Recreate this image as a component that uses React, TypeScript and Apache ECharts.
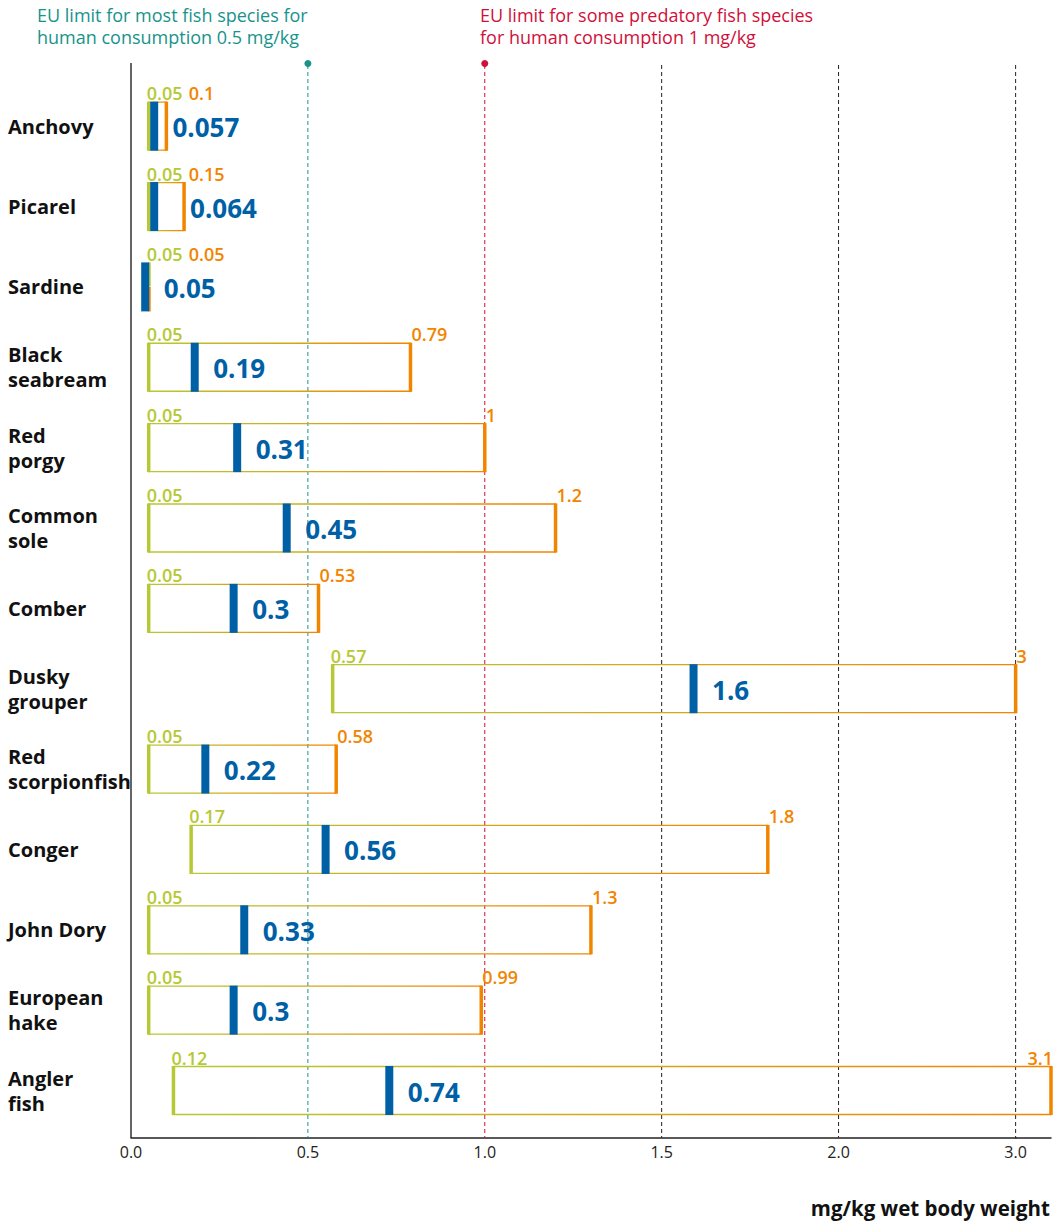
import React, { useEffect, useRef } from "react";
import * as echarts from "echarts";

const categories = [
  "Anchovy",
  "Picarel",
  "Sardine",
  "Black\nseabream",
  "Red\nporgy",
  "Common\nsole",
  "Comber",
  "Dusky\ngrouper",
  "Red\nscorpionfish",
  "Conger",
  "John Dory",
  "European\nhake",
  "Angler\nfish",
];
const minValues = [0.05, 0.05, 0.05, 0.05, 0.05, 0.05, 0.05, 0.57, 0.05, 0.17, 0.05, 0.05, 0.12];
const medianValues = [0.057, 0.064, 0.05, 0.19, 0.31, 0.45, 0.3, 1.6, 0.22, 0.56, 0.33, 0.3, 0.74];
const maxValues = [0.1, 0.15, 0.05, 0.79, 1, 1.2, 0.53, 3, 0.58, 1.8, 1.3, 0.99, 3.1];

const xMin = 0;
const xMax = 3.1;
const xTickInterval = 0.5;
// the original axis skips the stretch 2.5–3.0 (3.0 sits one half-step after 2.0)
const axisBreak = { start: 2.5, end: 3.0 };
const refLineValues = [0.5, 1, 1.5, 2, 3];
const euLimitMost = 0.5;
const euLimitPredatory = 1;

const annotationMost = "EU limit for most fish species for\nhuman consumption 0.5 mg/kg";
const annotationPredatory = "EU limit for some predatory fish species\nfor human consumption 1 mg/kg";
const xAxisName = "mg/kg wet body weight";

const GREEN = "#b6c935";
const ORANGE = "#f28500";
const BLUE = "#0060a6";
const TEAL = "#17938c";
const RED = "#d0103a";
const DARK = "#222222";
const FONT = "'Open Sans', 'Noto Sans', 'DejaVu Sans', sans-serif";

export default function App() {
  const ref = useRef<HTMLDivElement>(null);

  useEffect(() => {
    document.body.style.margin = "0";
    document.body.style.overflow = "hidden";
    if (!ref.current) return;
    const chart = echarts.init(ref.current, null, { renderer: "svg" });

    const boxData = categories.map((_, i) => [i, minValues[i], medianValues[i], maxValues[i]]);
    const refData = refLineValues.map((v) => [v, 0]);

    const refSeries = {
      type: "custom",
      name: "limits",
      silent: true,
      z: 1,
      data: refData,
      encode: { x: 0, y: 1 },
      renderItem: (params: any, api: any) => {
        const cs = params.coordSys;
        const v = api.value(0);
        const x = api.coord([v, 0])[0];
        const color = v === euLimitMost ? TEAL : v === euLimitPredatory ? RED : DARK;
        const children: any[] = [
          {
            type: "line",
            shape: { x1: x, y1: cs.y - 21, x2: x, y2: cs.y + cs.height + 7 },
            style: { stroke: color, lineWidth: 1, lineDash: [4, 3], fill: null },
          },
        ];
        if (color !== DARK) {
          children.push({
            type: "circle",
            shape: { cx: x, cy: cs.y - 22.5, r: 3.5 },
            style: { fill: color },
          });
        }
        return { type: "group", children };
      },
    };

    const boxSeries = {
      type: "custom",
      name: "range",
      silent: true,
      z: 3,
      data: boxData,
      encode: { x: [1, 2, 3], y: 0 },
      renderItem: (params: any, api: any) => {
        const cs = params.coordSys;
        const idx = api.value(0);
        const vMin = api.value(1);
        const vMed = api.value(2);
        const vMax = api.value(3);
        const yc = api.coord([vMin, idx])[1];
        const pMin = api.coord([vMin, idx])[0];
        const pMed = api.coord([vMed, idx])[0];
        const pMax = api.coord([vMax, idx])[0];
        const h = 48;
        const top = yc - h / 2;
        const grad = new echarts.graphic.LinearGradient(0, 0, 1, 0, [
          { offset: 0, color: GREEN },
          { offset: 1, color: ORANGE },
        ]);
        let medLeft = pMed - 7.5;
        if (pMax - pMin > 8 && medLeft < pMin + 1.5) medLeft = pMin + 1.5;
        let medLabelX = pMed + 15;
        if (pMax - pMed < 40) medLabelX = Math.max(medLabelX, pMax + 6);
        let maxLabelX = Math.max(pMax + 1, pMin + 40);
        let maxAlign = "left";
        if (pMax + 25 > cs.x + cs.width) {
          maxLabelX = pMax + 2;
          maxAlign = "right";
        }
        const smallFont = `600 18px ${FONT}`;
        const collapsed = pMax - pMin < 1;
        const edges: any[] = collapsed
          ? [
              {
                type: "rect",
                shape: { x: pMin - 0.5, y: top - 0.5, width: 2.5, height: h / 2 },
                style: { fill: GREEN },
              },
              {
                type: "rect",
                shape: { x: pMin - 0.5, y: yc, width: 2.5, height: h / 2 + 0.5 },
                style: { fill: ORANGE },
              },
            ]
          : [
              {
                type: "rect",
                shape: { x: pMin - 1.75, y: top - 0.5, width: 3.5, height: h + 1 },
                style: { fill: GREEN },
              },
              {
                type: "rect",
                shape: { x: pMax - 1.75, y: top - 0.5, width: 3.5, height: h + 1 },
                style: { fill: ORANGE },
              },
            ];
        return {
          type: "group",
          children: [
            {
              type: "rect",
              shape: { x: pMin, y: top, width: pMax - pMin, height: h },
              style: { fill: null, stroke: collapsed ? null : grad, lineWidth: 1.3 },
            },
            ...edges,
            {
              type: "rect",
              shape: { x: medLeft, y: top - 0.5, width: 8, height: h + 1 },
              style: { fill: BLUE },
            },
            {
              type: "text",
              style: {
                x: pMin - 2,
                y: yc - 33,
                text: String(vMin),
                fill: GREEN,
                font: smallFont,
                align: "left",
                verticalAlign: "middle",
              },
            },
            {
              type: "text",
              style: {
                x: maxLabelX,
                y: yc - 33,
                text: String(vMax),
                fill: ORANGE,
                font: smallFont,
                align: maxAlign,
                verticalAlign: "middle",
              },
            },
            {
              type: "text",
              style: {
                x: medLabelX,
                y: yc + 1,
                text: String(vMed),
                fill: BLUE,
                font: `bold 26px ${FONT}`,
                align: "left",
                verticalAlign: "middle",
              },
            },
          ],
        };
      },
    };

    const option: any = {
      animation: false,
      backgroundColor: "#ffffff",
      grid: { left: 131, right: 10, top: 86, bottom: 90.3, containLabel: false, outerBoundsMode: "none" },
      xAxis: {
        type: "value",
        min: xMin,
        max: xMax,
        interval: xTickInterval,
        breaks: [{ start: axisBreak.start, end: axisBreak.end, gap: 0.0005 }],
        breakArea: {
          show: false,
          itemStyle: { color: "rgba(0,0,0,0)", borderColor: "rgba(0,0,0,0)", borderWidth: 0 },
        },
        breakLabelLayout: { moveOverlap: false },
        offset: 7,
        axisLine: { show: true, lineStyle: { color: DARK, width: 1.5 } },
        axisTick: { show: false },
        splitLine: { show: false },
        axisLabel: {
          color: DARK,
          fontSize: 16,
          fontFamily: FONT,
          margin: 6,
          formatter: (v: number) => {
            const r = Math.round(v / xTickInterval) * xTickInterval;
            if (Math.abs(v - r) > 1e-6) return "";
            if (v > axisBreak.start - 1e-6 && v < axisBreak.end - 1e-6) return "";
            return v.toFixed(1);
          },
        },
      },
      yAxis: {
        type: "category",
        data: categories,
        inverse: true,
        axisLine: { show: false },
        axisTick: { show: false },
        splitLine: { show: false },
        axisLabel: {
          align: "left",
          margin: 123,
          fontSize: 20,
          fontWeight: "bold",
          color: "#111111",
          lineHeight: 25,
          fontFamily: FONT,
        },
      },
      series: [refSeries, boxSeries],
      graphic: [
        {
          type: "line",
          silent: true,
          shape: { x1: 131, y1: 63, x2: 131, y2: 1138 },
          style: { stroke: "#333333", lineWidth: 1.5 },
        },
        {
          type: "text",
          silent: true,
          x: 37,
          y: 4,
          style: { text: annotationMost, fill: TEAL, font: `18px ${FONT}`, lineHeight: 22 },
        },
        {
          type: "text",
          silent: true,
          x: 480,
          y: 4,
          style: { text: annotationPredatory, fill: RED, font: `18px ${FONT}`, lineHeight: 22 },
        },
        {
          type: "text",
          silent: true,
          x: 1050,
          y: 1208,
          style: {
            text: xAxisName,
            fill: "#111111",
            font: `bold 20.5px ${FONT}`,
            align: "right",
            verticalAlign: "middle",
          },
        },
      ],
    };

    chart.setOption(option);
    return () => chart.dispose();
  }, []);

  return <div ref={ref} style={{ width: 1061, height: 1221 }} />;
}
